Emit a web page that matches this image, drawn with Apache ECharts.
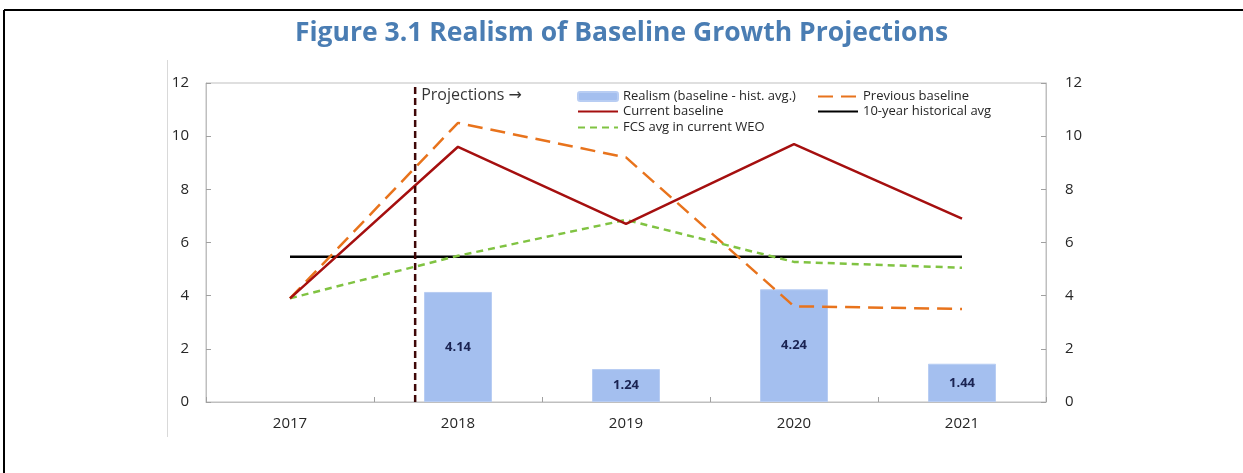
<!DOCTYPE html>
<html>
<head>
    <meta charset="utf-8">
    <title>Figure 3.1 Realism of Baseline Growth Projections</title>
    <script type="text/javascript" src="https://cdn.jsdelivr.net/npm/echarts@6/dist/echarts.min.js"></script>
    <style>
        html, body { margin: 0; padding: 0; background: #fff; }
        #container { width: 1243px; height: 473px; }
    </style>
</head>
<body>
<div id="container"></div>
<script type="text/javascript">
    // data
    var years = ['2017', '2018', '2019', '2020', '2021'];
    var realism = ['-', 4.14, 1.24, 4.24, 1.44];
    var previousBaseline = [3.9, 10.5, 9.2, 3.6, 3.5];
    var currentBaseline = [3.9, 9.6, 6.7, 9.7, 6.9];
    var histAvg = [5.46, 5.46, 5.46, 5.46, 5.46];
    var fcsAvg = [3.9, 5.5, 6.85, 5.27, 5.05];
    // projections start marker (category index position) and its top
    var projectionsAt = 0.745;
    var projectionsTop = 11.85;

    var font = '"Open Sans", "DejaVu Sans", sans-serif';
    var dom = document.getElementById('container');
    var myChart = echarts.init(dom, null, { renderer: 'canvas' });

    function legendAt(name, left, top, isLine) {
        return {
            data: [name],
            left: left,
            top: top,
            padding: 0,
            itemWidth: 40,
            itemHeight: 9,
            itemGap: 5,
            itemStyle: isLine ? { opacity: 0 } : {},
            textStyle: { fontFamily: font, fontSize: 13, color: '#262626' }
        };
    }

    var axisTick = { show: true, inside: true, length: 5, lineStyle: { color: '#A0A0A0' } };
    var axisLine = { show: true, onZero: false, lineStyle: { color: '#BFBFBF' } };

    var option = {
        animation: false,
        title: {
            text: 'Figure 3.1 Realism of Baseline Growth Projections',
            left: 'center',
            top: 20,
            padding: 0,
            textStyle: {
                fontFamily: font,
                fontSize: 26.5,
                fontWeight: 'bold',
                color: '#4A7DB3'
            }
        },
        legend: [
            legendAt('Realism (baseline - hist. avg.)', 577, 90, false),
            legendAt('Previous baseline', 817, 90, true),
            legendAt('Current baseline', 577, 105, true),
            legendAt('10-year historical avg', 817, 105, true),
            legendAt('FCS avg in current WEO', 577, 121, true)
        ],
        grid: {
            left: 206,
            right: 197,
            top: 83,
            bottom: 71,
            show: true,
            borderColor: '#BFBFBF',
            borderWidth: 1
        },
        xAxis: [
            {
                type: 'category',
                data: years,
                axisLine: axisLine,
                axisTick: axisTick,
                axisLabel: { fontFamily: font, fontSize: 15, color: '#262626', margin: 14 }
            },
            {
                type: 'value',
                min: -0.5,
                max: 4.5,
                show: false
            }
        ],
        yAxis: [
            {
                type: 'value',
                min: 0,
                max: 12,
                interval: 2,
                position: 'left',
                splitLine: { show: false },
                axisLine: axisLine,
                axisTick: axisTick,
                axisLabel: { fontFamily: font, fontSize: 15, color: '#262626', margin: 17 }
            },
            {
                type: 'value',
                min: 0,
                max: 12,
                interval: 2,
                position: 'right',
                splitLine: { show: false },
                axisLine: axisLine,
                axisTick: axisTick,
                axisLabel: { fontFamily: font, fontSize: 15, color: '#262626', margin: 19 }
            }
        ],
        graphic: [
            // report frame lines
            { type: 'line', shape: { x1: 4, y1: 10, x2: 1243, y2: 10 }, style: { stroke: '#000', lineWidth: 2 } },
            { type: 'line', shape: { x1: 4, y1: 10, x2: 4, y2: 473 }, style: { stroke: '#000', lineWidth: 2 } },
            { type: 'line', shape: { x1: 167.5, y1: 60, x2: 167.5, y2: 437 }, style: { stroke: '#D9D9D9', lineWidth: 1 } }
        ],
        series: [
            {
                name: 'Realism (baseline - hist. avg.)',
                type: 'bar',
                data: realism,
                barWidth: 68,
                itemStyle: { color: '#A4BFEF', borderColor: '#B8CDF3', borderWidth: 1 },
                label: {
                    show: true,
                    position: 'inside',
                    fontFamily: font,
                    fontSize: 13,
                    fontWeight: 'bold',
                    color: '#1A2352',
                    formatter: function (p) { return p.value.toFixed(2); }
                },
                z: 1
            },
            {
                name: 'Previous baseline',
                type: 'line',
                data: previousBaseline,
                symbol: 'none',
                lineStyle: { color: '#E8731C', width: 2.5, type: [15, 8] },
                itemStyle: { color: '#E8731C' },
                z: 3
            },
            {
                name: 'Current baseline',
                type: 'line',
                data: currentBaseline,
                symbol: 'none',
                lineStyle: { color: '#A50F0F', width: 2.5 },
                itemStyle: { color: '#A50F0F' },
                z: 4
            },
            {
                name: '10-year historical avg',
                type: 'line',
                data: histAvg,
                symbol: 'none',
                lineStyle: { color: '#000000', width: 2.5 },
                itemStyle: { color: '#000000' },
                z: 2
            },
            {
                name: 'FCS avg in current WEO',
                type: 'line',
                data: fcsAvg,
                symbol: 'none',
                lineStyle: { color: '#80C342', width: 2.5, type: [7, 5] },
                itemStyle: { color: '#80C342' },
                z: 3
            },
            {
                name: 'Projections',
                type: 'line',
                xAxisIndex: 1,
                data: [[projectionsAt, 0], [projectionsAt, projectionsTop]],
                symbol: 'none',
                lineStyle: { color: '#3F0707', width: 2.5, type: [7, 4] },
                z: 5
            },
            {
                name: 'Projections label',
                type: 'scatter',
                xAxisIndex: 1,
                data: [[projectionsAt, projectionsTop]],
                symbolSize: 0,
                silent: true,
                label: {
                    show: true,
                    position: 'right',
                    distance: 6,
                    offset: [0, 8],
                    fontFamily: font,
                    fontSize: 16,
                    color: '#000000',
                    formatter: 'Projections \u2192'
                },
                z: 5
            }
        ]
    };

    myChart.setOption(option);
    window.addEventListener('resize', myChart.resize);
</script>
</body>
</html>
